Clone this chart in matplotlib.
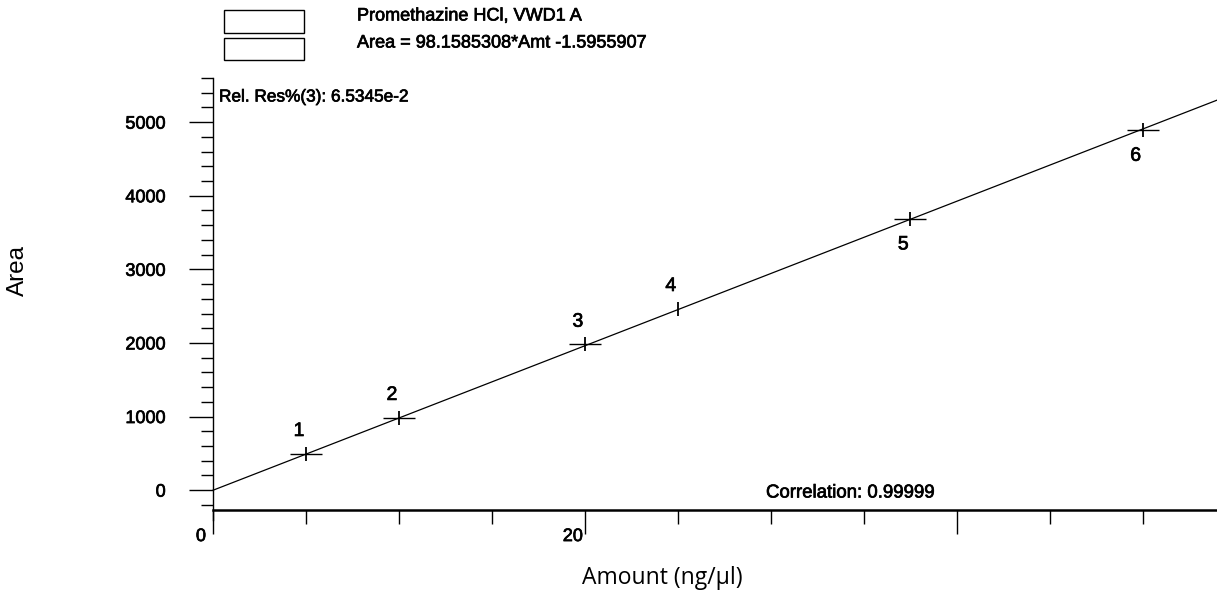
import numpy as np
import matplotlib
matplotlib.use('Agg')
import matplotlib.pyplot as plt
from matplotlib.patches import Rectangle
from matplotlib.ticker import MultipleLocator, FixedLocator
import matplotlib.transforms as mtransforms
import matplotlib.patheffects as pe

# calibration points
point_ids = ['1', '2', '3', '4', '5', '6']
amounts = [5, 10, 20, 25, 37.5, 50]
areas = [495, 985, 1980, 2465, 3690, 4895]

# fit as printed on the chart
slope = 98.1585308
intercept = -1.5955907
fit_range = [0, 54]

xtick_values = [0, 20, 40]
xtick_labels = ['0', '20', '']
ytick_values = [0, 1000, 2000, 3000, 4000, 5000]

title_line1 = 'Promethazine HCl, VWD1 A'
title_line2 = 'Area = 98.1585308*Amt -1.5955907'
rel_res_text = 'Rel. Res%(3): 6.5345e-2'
corr_text = 'Correlation: 0.99999'

chart_font = ['Liberation Sans', 'DejaVu Sans']
heavy = [pe.withStroke(linewidth=0.5, foreground='black')]

fig = plt.figure(figsize=(12.17, 5.9), dpi=100)
ax = fig.add_axes([213 / 1217, 1 - 510 / 590, 1 - 213 / 1217, (510 - 78) / 590])

# fitted line
fx = np.array(fit_range, dtype=float)
ax.plot(fx, slope * fx + intercept, color='black', lw=0.9, clip_on=False)

# crosses: wide horizontal arm, short vertical arm (point 4 only shows the vertical)
for i, (a, r) in enumerate(zip(amounts, areas)):
    if point_ids[i] != '4':
        ax.plot(a, r, marker='_', markersize=23, mew=1.0, color='black')
    ax.plot(a, r, marker='|', markersize=10, mew=1.3, color='black')

# point numbers: first four above, last two below
for i, (a, r) in enumerate(zip(amounts, areas)):
    dy = 16 if i < 4 else -19
    ax.annotate(point_ids[i], (a, r), xytext=(-5, dy), textcoords='offset points',
                ha='center', va='center', fontsize=14, family=chart_font,
                path_effects=heavy)

ax.set_xlim(fit_range)
ax.set_ylim(-270, 5600)

for side in ['top', 'right']:
    ax.spines[side].set_visible(False)
ax.spines['left'].set_linewidth(1.0)
ax.spines['left'].set_bounds(-400, 5600)
ax.spines['bottom'].set_linewidth(1.8)

ax.yaxis.set_major_locator(FixedLocator(ytick_values))
ax.yaxis.set_minor_locator(MultipleLocator(200))
ax.xaxis.set_major_locator(FixedLocator(xtick_values))
ax.xaxis.set_minor_locator(MultipleLocator(5))
ax.set_xticklabels(xtick_labels)

ax.tick_params(axis='y', which='major', length=17, width=1.0, pad=17, labelsize=13)
ax.tick_params(axis='y', which='minor', length=8.5, width=1.0)
ax.tick_params(axis='x', which='major', length=17, width=1.0, pad=-4, labelsize=13)
ax.tick_params(axis='x', which='minor', length=10, width=1.0)
for lab in ax.get_xticklabels() + ax.get_yticklabels():
    lab.set_family(chart_font)
    lab.set_path_effects(heavy)
shift = mtransforms.ScaledTranslation(-12 / 100, 0, fig.dpi_scale_trans)
for lab in ax.get_xticklabels():
    lab.set_transform(lab.get_transform() + shift)

fig.text(18 / 1217, 1 - 271 / 590, 'Area', rotation=90, ha='center', va='center',
         fontsize=17.5, family=['Liberation Sans', 'DejaVu Sans'])
fig.text(662 / 1217, 1 - 578 / 590, 'Amount (ng/\u00b5l)', ha='center', va='center',
         fontsize=16.5, family=['Open Sans', 'DejaVu Sans'])

# header boxes and text
for y0, y1 in [(10, 33), (38, 60)]:
    fig.patches.append(Rectangle((224 / 1217, 1 - y1 / 590), 80 / 1217, (y1 - y0) / 590,
                                 transform=fig.transFigure, fill=False, lw=1.0,
                                 edgecolor='black'))
fig.text(357 / 1217, 1 - 16 / 590, title_line1, ha='left', va='center',
         fontsize=13, family=chart_font, path_effects=heavy)
fig.text(357 / 1217, 1 - 43 / 590, title_line2, ha='left', va='center',
         fontsize=13, family=chart_font, path_effects=heavy)
fig.text(219 / 1217, 1 - 97 / 590, rel_res_text, ha='left', va='center',
         fontsize=12.4, family=chart_font, path_effects=heavy)
fig.text(766 / 1217, 1 - 493 / 590, corr_text, ha='left', va='center',
         fontsize=13.4, family=chart_font, path_effects=heavy)

fig.savefig('out.png', dpi=100)
